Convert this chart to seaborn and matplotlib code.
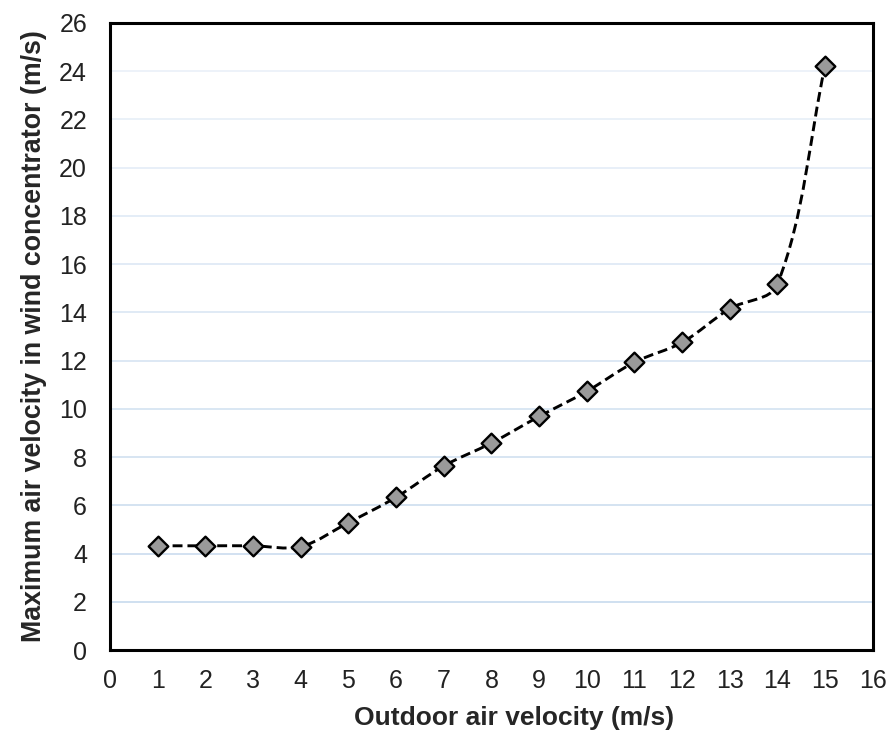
import numpy as np
import pandas as pd
import matplotlib
matplotlib.use("Agg")
import matplotlib.pyplot as plt
import seaborn as sns
from matplotlib.path import Path
from matplotlib.patches import PathPatch
from matplotlib.colors import to_rgb

outdoor_velocity = [1, 2, 3, 4, 5, 6, 7, 8, 9, 10, 11, 12, 13, 14, 15]
max_velocity = [4.32, 4.32, 4.32, 4.29, 5.28, 6.33, 7.63, 8.58, 9.68, 10.72,
                11.93, 12.75, 14.15, 15.16, 24.22]

x_ticks = list(range(0, 17))
y_ticks = list(range(0, 27, 2))

df = pd.DataFrame({'x': outdoor_velocity, 'y': max_velocity})

sns.set_style('white')
plt.rcParams['font.family'] = ['Liberation Sans', 'DejaVu Sans']

fig = plt.figure(figsize=(8.91, 7.31), dpi=100)
ax = fig.add_axes([0.1235, 0.1108, 0.856, 0.858])
ax.set_xlim(0, 16)
ax.set_ylim(0, 26)


def smooth_path(xs, ys, k=1.0 / 3.0):
    # smoothed line like a spreadsheet chart: Bezier segments through each
    # point, tangents worked out in screen space and scaled by segment length
    pts = ax.transData.transform(np.column_stack([xs, ys]).astype(float))
    n = len(pts)
    verts = [pts[0]]
    codes = [Path.MOVETO]

    def tangent(i):
        a = pts[i - 1] if i > 0 else pts[i]
        b = pts[i + 1] if i + 1 < n else pts[i]
        d = b - a
        return d / np.hypot(*d)

    for i in range(n - 1):
        p1, p2 = pts[i], pts[i + 1]
        seg = np.hypot(*(p2 - p1))
        c1 = p1 + tangent(i) * seg * k
        c2 = p2 - tangent(i + 1) * seg * k
        verts += [c1, c2, p2]
        codes += [Path.CURVE4] * 3
    verts = ax.transData.inverted().transform(np.array(verts))
    return Path(verts, codes)


line = PathPatch(smooth_path(df['x'], df['y']), facecolor='none',
                 edgecolor='black', lw=2.1, linestyle=(0, (3.4, 1.7)),
                 transform=ax.transData, zorder=3)
ax.add_patch(line)

sns.scatterplot(data=df, x='x', y='y', marker='D', s=100, color='#9a9a9a',
                edgecolor='black', linewidth=1.7, zorder=4, ax=ax)

ax.set_xlim(0, 16)
ax.set_ylim(0, 26)
ax.set_xticks(x_ticks)
ax.set_yticks(y_ticks)

ax.yaxis.grid(True, lw=1.1)
ax.set_axisbelow(True)
top_c = np.array(to_rgb('#ebf1f9'))
bot_c = np.array(to_rgb('#bfd5eb'))
for gl, v in zip(ax.get_ygridlines(), y_ticks):
    t = v / 26.0
    gl.set_color(tuple(bot_c * (1 - t) + top_c * t))

for sp in ax.spines.values():
    sp.set_visible(True)
    sp.set_color('black')
    sp.set_linewidth(2.2)

ax.tick_params(axis='both', direction='out', length=7, width=1.5,
               color='black', labelsize=18, labelcolor='#222222')
ax.tick_params(axis='y', pad=9.5)
ax.tick_params(axis='x', length=5, pad=9)

ax.set_xlabel('Outdoor air velocity (m/s)', fontsize=19, fontweight='bold',
              labelpad=9)
ax.xaxis.label.set_x(0.53)
ax.set_ylabel('Maximum air velocity in wind concentrator (m/s)', fontsize=19.3,
              fontweight='bold', labelpad=9)

fig.savefig('out.png', dpi=100)
